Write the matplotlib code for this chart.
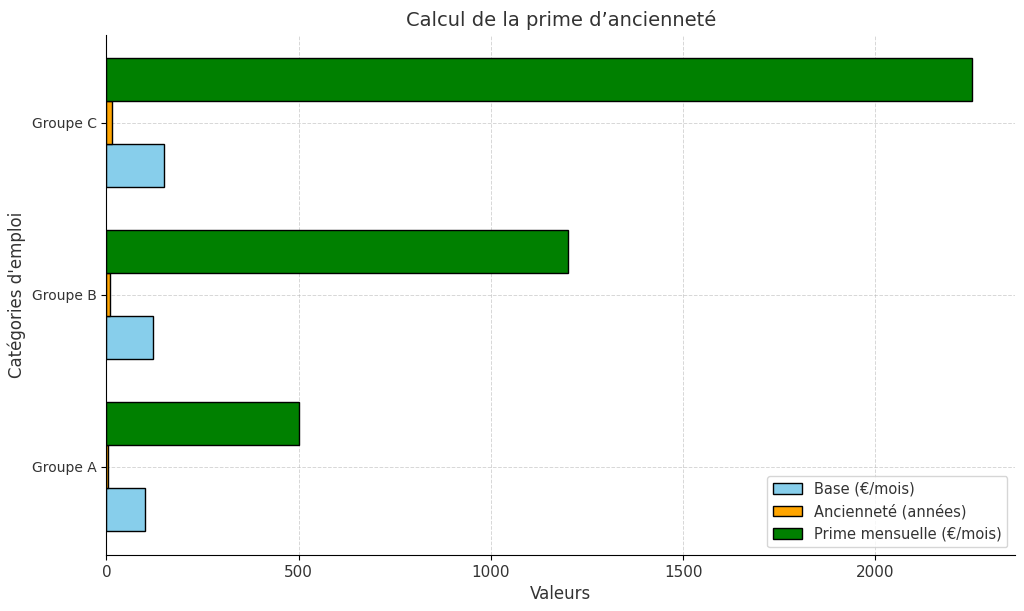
import matplotlib.pyplot as plt
import numpy as np

groupes = ['Groupe A', 'Groupe B', 'Groupe C']
base = [100, 120, 150]
anciennete = [5, 10, 15]
prime = [500, 1200, 2250]

plt.rcParams['text.color'] = '#333333'
plt.rcParams['axes.labelcolor'] = '#333333'
plt.rcParams['xtick.labelcolor'] = '#333333'
plt.rcParams['ytick.labelcolor'] = '#333333'

y = np.arange(len(groupes))
h = 0.25

fig, ax = plt.subplots(figsize=(10.24, 6.11), dpi=100)
ax.barh(y - h, base, height=h, color='skyblue', edgecolor='black', label='Base (€/mois)')
ax.barh(y, anciennete, height=h, color='orange', edgecolor='black', label='Ancienneté (années)')
ax.barh(y + h, prime, height=h, color='green', edgecolor='black', label='Prime mensuelle (€/mois)')

ax.set_yticks(y)
ax.set_yticklabels(groupes, fontsize=10)
ax.tick_params(axis='x', labelsize=11)
ax.set_xlabel('Valeurs', fontsize=12)
ax.set_ylabel("Catégories d'emploi", fontsize=12)
ax.set_title('Calcul de la prime d’ancienneté', fontsize=14)

ax.spines['top'].set_visible(False)
ax.spines['right'].set_visible(False)
ax.grid(True, linestyle='--', linewidth=0.7, alpha=0.5)
ax.set_axisbelow(True)
ax.legend(loc='lower right', fontsize=10.5)

plt.subplots_adjust(left=0.104, right=0.991, top=0.943, bottom=0.092)
plt.savefig('out.png')
